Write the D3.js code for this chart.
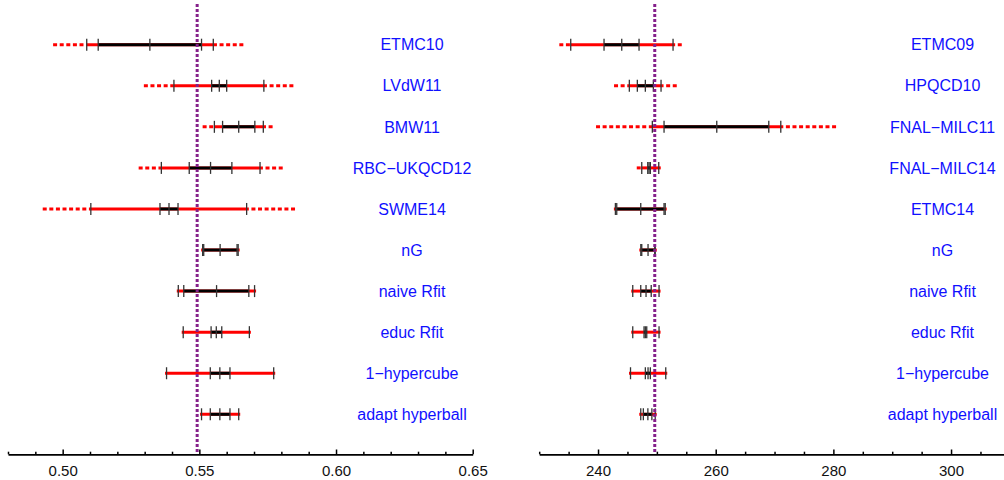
<!DOCTYPE html>
<html><head><meta charset="utf-8">
<script src="https://cdn.jsdelivr.net/npm/d3@7"></script>
<style>body{margin:0;background:#fff} svg{display:block}</style>
</head><body><svg id="c" width="1004" height="480"></svg>
<script>
// ---------- data ----------
const leftLabels = ["ETMC10","LVdW11","BMW11","RBC\u2212UKQCD12","SWME14","nG","naive Rfit","educ Rfit","1\u2212hypercube","adapt hyperball"];
const leftCenter = [0.5319,0.5573,0.5644,0.5541,0.5389,0.5576,0.5563,0.5562,0.5575,0.5575];
const leftStat = [[0.5130,0.5508],[0.5545,0.5600],[0.5585,0.5703],[0.5463,0.5619],[0.5356,0.5422],[0.5516,0.5638],[0.5443,0.5681],[0.5543,0.5582],[0.5540,0.5612],[0.5540,0.5612]];
const leftSys  = [[0.5088,0.5551],[0.5407,0.5736],[0.5555,0.5734],[0.5361,0.5722],[0.5103,0.5673],[0.5512,0.5642],[0.5423,0.5702],[0.5441,0.5683],[0.5380,0.5772],[0.5508,0.5644]];
const leftExt  = [[0.4965,0.5661],[0.5297,0.5844],[0.5512,0.5768],[0.5278,0.5805],[0.4927,0.5850],null,null,null,null,null];
const leftRef = 0.5492;
const leftMajor = [0.50,0.55,0.60,0.65];
const leftMinor = [0.48,0.49,0.51,0.52,0.53,0.54,0.56,0.57,0.58,0.59,0.61,0.62,0.63,0.64];

const rightLabels = ["ETMC09","HPQCD10","FNAL\u2212MILC11","FNAL\u2212MILC14","ETMC14","nG","naive Rfit","educ Rfit","1\u2212hypercube","adapt hyperball"];
const rightCenter = [244.03,248.04,260.18,248.67,247.26,248.50,248.16,248.04,248.50,248.47];
const rightStat = [[241.02,246.97],[246.68,249.40],[251.22,269.02],[248.45,248.89],[243.18,251.22],[247.43,249.64],[247.26,249.04],[247.82,248.28],[248.04,248.89],[247.70,249.15]];
const rightSys  = [[235.36,252.75],[245.32,250.71],[249.23,271.06],[247.43,250.32],[242.95,251.42],[247.27,249.72],[245.90,250.37],[245.90,250.37],[245.52,251.51],[247.26,249.72]];
const rightExt  = [[233.42,254.23],[242.72,253.38],[239.66,280.46],[246.58,250.66],null,null,null,null,null,null];
const rightRef = 249.64;
const rightMajor = [240,260,280,300];
const rightMinor = [230,235,245,250,255,265,270,275,285,290,295,305];

// ---------- drawing ----------
const svg = d3.select("#c");
const FONT = "'Liberation Sans', Arial, Helvetica, sans-serif";
const axisY = 454.3;

function panel(o) {
  const x = d3.scaleLinear().domain(o.domain).range(o.range);
  const y = d3.scalePoint().domain(o.labels).range([44.7, 414.3]);
  const g = svg.append("g");

  o.labels.forEach((lab, i) => {
    const yy = y(lab);
    const rg = g.append("g");
    const ext = o.ext[i], sys = o.sys[i], st = o.stat[i], c = o.center[i];
    if (ext) {
      rg.append("line").attr("x1", x(ext[0])).attr("x2", x(sys[0])).attr("y1", yy).attr("y2", yy)
        .attr("stroke", "#ff0000").attr("stroke-width", 3).attr("stroke-dasharray", "4,2.6");
      rg.append("line").attr("x1", x(ext[1])).attr("x2", x(sys[1])).attr("y1", yy).attr("y2", yy)
        .attr("stroke", "#ff0000").attr("stroke-width", 3).attr("stroke-dasharray", "4,2.6");
    }
    rg.append("line").attr("x1", x(sys[0])).attr("x2", x(sys[1])).attr("y1", yy).attr("y2", yy)
      .attr("stroke", "#ff0000").attr("stroke-width", 3).attr("stroke-linecap", ext ? "butt" : "square");
    rg.append("line").attr("x1", x(st[0])).attr("x2", x(st[1])).attr("y1", yy).attr("y2", yy)
      .attr("stroke", "#000").attr("stroke-width", 3);
    [sys[0], st[0], c, st[1], sys[1]].forEach(v => {
      rg.append("line").attr("x1", x(v)).attr("x2", x(v)).attr("y1", yy - 6).attr("y2", yy + 6)
        .attr("stroke", "#333").attr("stroke-width", 1.3);
    });
    g.append("text").attr("x", o.labelX).attr("y", yy + 5.7).attr("text-anchor", "middle")
      .attr("font-family", FONT).attr("font-size", 16).attr("fill", "#1010ff").text(lab);
  });

  // reference dotted line
  g.append("line").attr("x1", x(o.ref)).attr("x2", x(o.ref)).attr("y1", 4).attr("y2", axisY)
    .attr("stroke", "#85208a").attr("stroke-width", 3).attr("stroke-dasharray", "3,2");

  // axes
  const minor = g.append("g").attr("transform", `translate(0,${axisY})`)
    .call(d3.axisBottom(x).tickValues(o.minor).tickSizeInner(-2.6).tickSizeOuter(0).tickFormat(""));
  minor.select(".domain").attr("stroke", "#000").attr("stroke-width", 1.8);
  minor.selectAll(".tick line").attr("stroke", "#000").attr("stroke-width", 1.5);
  const major = g.append("g").attr("transform", `translate(0,${axisY})`)
    .call(d3.axisBottom(x).tickValues(o.major).tickSizeInner(-4.8).tickSizeOuter(0).tickPadding(10.7).tickFormat(o.fmt));
  major.select(".domain").remove();
  major.selectAll(".tick line").attr("stroke", "#000").attr("stroke-width", 1.5);
  major.selectAll("text").attr("font-family", FONT).attr("font-size", 15).attr("fill", "#111");
}

panel({labels: leftLabels, center: leftCenter, stat: leftStat, sys: leftSys, ext: leftExt, ref: leftRef,
       major: leftMajor, minor: leftMinor, domain: [0.48, 0.65], range: [8, 472.7], labelX: 412, fmt: d3.format(".2f")});
panel({labels: rightLabels, center: rightCenter, stat: rightStat, sys: rightSys, ext: rightExt, ref: rightRef,
       major: rightMajor, minor: rightMinor, domain: [230, 309], range: [539.2, 1004], labelX: 942.5, fmt: d3.format("d")});
</script></body></html>
